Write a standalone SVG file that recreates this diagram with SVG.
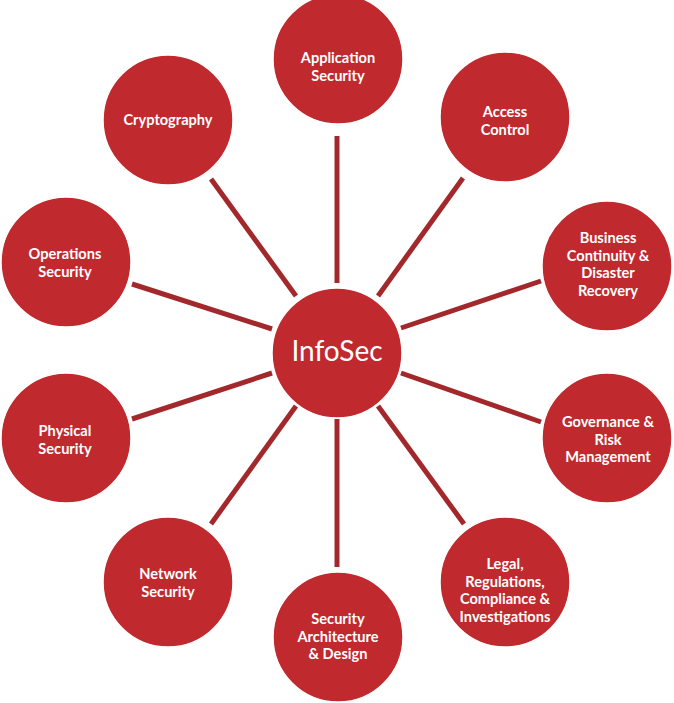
<svg xmlns="http://www.w3.org/2000/svg" width="674" height="703" viewBox="0 0 674 703">
  <style>
    .node { fill: #c0292d; stroke: #ffffff; stroke-width: 1.5; }
    .label { fill: #ffffff; font-family: Lato, "Open Sans", "Liberation Sans", sans-serif; font-size: 14.6px; font-weight: 700; text-anchor: middle; }
    .hub { font-size: 28px; font-weight: 400; }
    .link { stroke: #a3282b; stroke-width: 5; stroke-linecap: butt; }
  </style>
  <rect width="674" height="703" fill="#ffffff"/>

  <!-- spokes from the hub to each domain -->
  <g id="connectors">
    <line class="link" x1="337" y1="283" x2="337" y2="136"/>
    <line class="link" x1="378" y1="296" x2="463" y2="178"/>
    <line class="link" x1="401" y1="328" x2="541" y2="281"/>
    <line class="link" x1="401" y1="373" x2="541" y2="422"/>
    <line class="link" x1="378" y1="406" x2="464" y2="524"/>
    <line class="link" x1="337" y1="419" x2="337" y2="567"/>
    <line class="link" x1="296" y1="406" x2="211" y2="524"/>
    <line class="link" x1="272" y1="373" x2="132" y2="419"/>
    <line class="link" x1="272" y1="329" x2="132" y2="284"/>
    <line class="link" x1="296" y1="296" x2="211" y2="179"/>
  </g>

  <g id="infosec">
    <circle class="node" cx="337" cy="353" r="65"/>
    <text class="label hub" x="337" y="361">InfoSec</text>
  </g>

  <g id="application-security">
    <circle class="node" cx="338" cy="59" r="65"/>
    <text class="label" x="338" y="63">Application</text>
    <text class="label" x="338" y="80.5">Security</text>
  </g>

  <g id="access-control">
    <circle class="node" cx="505" cy="117" r="65"/>
    <text class="label" x="505" y="117">Access</text>
    <text class="label" x="505" y="134.5">Control</text>
  </g>

  <g id="business-continuity">
    <circle class="node" cx="607" cy="266" r="65"/>
    <text class="label" x="608" y="243">Business</text>
    <text class="label" x="608" y="260.5">Continuity &amp;</text>
    <text class="label" x="608" y="278">Disaster</text>
    <text class="label" x="608" y="295.5">Recovery</text>
  </g>

  <g id="governance-risk">
    <circle class="node" cx="607" cy="438" r="65"/>
    <text class="label" x="608" y="427">Governance &amp;</text>
    <text class="label" x="608" y="444.5">Risk</text>
    <text class="label" x="608" y="462">Management</text>
  </g>

  <g id="legal-compliance">
    <circle class="node" cx="505" cy="582" r="65"/>
    <text class="label" x="505" y="569">Legal,</text>
    <text class="label" x="505" y="586.5">Regulations,</text>
    <text class="label" x="505" y="604">Compliance &amp;</text>
    <text class="label" x="505" y="621.5">Investigations</text>
  </g>

  <g id="security-architecture">
    <circle class="node" cx="338" cy="637" r="65"/>
    <text class="label" x="338" y="624">Security</text>
    <text class="label" x="338" y="641.5">Architecture</text>
    <text class="label" x="338" y="659">&amp; Design</text>
  </g>

  <g id="network-security">
    <circle class="node" cx="168" cy="582" r="65"/>
    <text class="label" x="168" y="579">Network</text>
    <text class="label" x="168" y="596.5">Security</text>
  </g>

  <g id="physical-security">
    <circle class="node" cx="66" cy="438" r="65"/>
    <text class="label" x="65" y="436">Physical</text>
    <text class="label" x="65" y="453.5">Security</text>
  </g>

  <g id="operations-security">
    <circle class="node" cx="66" cy="262" r="65"/>
    <text class="label" x="65" y="259">Operations</text>
    <text class="label" x="65" y="276.5">Security</text>
  </g>

  <g id="cryptography">
    <circle class="node" cx="168" cy="120" r="65"/>
    <text class="label" x="168" y="125">Cryptography</text>
  </g>
</svg>
